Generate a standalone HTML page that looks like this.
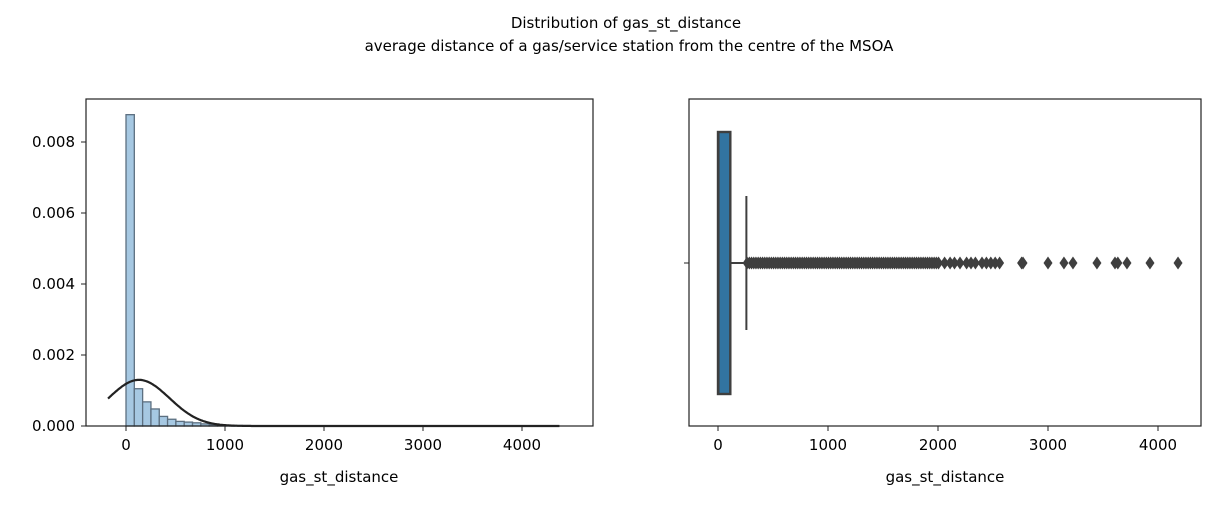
<!DOCTYPE html>
<html><head><meta charset="utf-8"><style>
body{margin:0;background:#fff;font-family:"Liberation Sans","DejaVu Sans",sans-serif;}
svg text{font-family:"DejaVu Sans","Liberation Sans",sans-serif;fill:#000;}
</style></head><body>
<svg id="c" width="1216" height="501" xmlns="http://www.w3.org/2000/svg">
<rect width="1216" height="501" fill="#fff"/>
<text x="626" y="28" font-size="15" text-anchor="middle">Distribution of gas_st_distance</text>
<text x="629" y="51" font-size="15" text-anchor="middle">average distance of a gas/service station from the centre of the MSOA</text>
<g id="left"></g>
<g id="right"></g>
</svg>
<script>
const binWidth = 84;
const histValues = [0.00877,0.00105,0.00068,0.00048,0.00027,0.00019,0.00013,0.00011,0.00009,0.00006,0.00004,0.00003,0.00002,0.000015,0.00001,0.00001,0.000008,0.000006,0.000005,0.000004,0.000003,0.000003,0.000002,0.000002,0.000002,0.000001,0.000001,0.000001,0.000001,0.000001,0.000001,0,0,0.000001,0,0,0.000001,0,0.000001,0,0.000001,0,0.000001,0,0,0,0.000001,0,0,0,0.000001];
const yTicks = [0,0.002,0.004,0.006,0.008];
const yTickLabels = ["0.000","0.002","0.004","0.006","0.008"];
const xTicksLeft = [0,1000,2000,3000,4000];
const fitMean = 131, fitSd = 307, fitMin = -182, fitMax = 4380;
const boxQ1 = 0, boxMedian = 5, boxQ3 = 112, whiskerLo = 0, whiskerHi = 258;
const xTicksRight = [0,1000,2000,3000,4000];
const outliers = (function(){const a=[];for(let v=265;v<=2020;v+=20)a.push(v);
return a.concat([2060,2110,2150,2200,2260,2300,2340,2400,2440,2480,2520,2560,2760,2773,3000,3145,3227,3445,3609,3635,3718,3927,4182]);})();

const NS="http://www.w3.org/2000/svg";
function el(tag,attrs,parent){const e=document.createElementNS(NS,tag);for(const k in attrs)e.setAttribute(k,attrs[k]);parent.appendChild(e);return e;}
// LEFT
const L=document.getElementById('left');
const lx=v=>126+v*0.099, ly=v=>426-v*35500;
histValues.forEach((h,i)=>{if(h<=0)return;
 const r=el('rect',{x:lx(i*binWidth),y:ly(h),width:binWidth*0.099,height:426-ly(h),fill:'#a6c8e2',stroke:'#5c6f80','stroke-width':1.3},L);
 
 });
let d='';for(let v=fitMin;v<=fitMax;v+=10){const p=Math.exp(-0.5*((v-fitMean)/fitSd)**2)/(fitSd*Math.sqrt(2*Math.PI));d+=(d?'L':'M')+lx(v).toFixed(1)+','+ly(p).toFixed(1);}
const cv=el('path',{d:d,fill:'none',stroke:'#222','stroke-width':2.2},L);


const lf=el('rect',{x:86,y:99,width:507,height:327,fill:'none',stroke:'#222','stroke-width':1.2},L);


yTicks.forEach((t,i)=>{el('line',{x1:81,x2:86,y1:ly(t),y2:ly(t),stroke:'#222'},L);
 const tx=el('text',{x:75,y:ly(t)+5,'font-size':15,'text-anchor':'end'},L);tx.textContent=yTickLabels[i];
 
 });
xTicksLeft.forEach(t=>{el('line',{x1:lx(t),x2:lx(t),y1:426,y2:431,stroke:'#222'},L);
 const tx=el('text',{x:lx(t),y:450,'font-size':15,'text-anchor':'middle'},L);tx.textContent=t;
 
 });
const xl=el('text',{x:339,y:482,'font-size':15,'text-anchor':'middle'},L);xl.textContent='gas_st_distance';


// RIGHT
const R=document.getElementById('right');
const rx=v=>718+v*0.11, cy=263;
el('line',{x1:rx(boxQ3),x2:rx(whiskerHi),y1:cy,y2:cy,stroke:'#3f3f3f','stroke-width':2},R);
el('line',{x1:rx(whiskerHi),x2:rx(whiskerHi),y1:196,y2:330,stroke:'#3f3f3f','stroke-width':2},R);
outliers.forEach(v=>{const x=rx(v);
 const p=el('polygon',{points:`${x},${cy-6.5} ${x+4.5},${cy} ${x},${cy+6.5} ${x-4.5},${cy}`,fill:'#3f3f3f'},R);
 
 });
const bx=el('rect',{x:rx(boxQ1),y:132,width:rx(boxQ3)-rx(boxQ1),height:262,fill:'#3274a1',stroke:'#3f3f3f','stroke-width':2.4},R);


el('line',{x1:rx(boxMedian),x2:rx(boxMedian),y1:132,y2:394,stroke:'#3f3f3f','stroke-width':2},R);
const rf=el('rect',{x:689,y:99,width:512,height:327,fill:'none',stroke:'#222','stroke-width':1.2},R);


el('line',{x1:684,x2:689,y1:cy,y2:cy,stroke:'#222'},R);
xTicksRight.forEach(t=>{el('line',{x1:rx(t),x2:rx(t),y1:426,y2:431,stroke:'#222'},R);
 const tx=el('text',{x:rx(t),y:450,'font-size':15,'text-anchor':'middle'},R);tx.textContent=t;
 
 });
const xr=el('text',{x:945,y:482,'font-size':15,'text-anchor':'middle'},R);xr.textContent='gas_st_distance';


</script>
</body></html>
